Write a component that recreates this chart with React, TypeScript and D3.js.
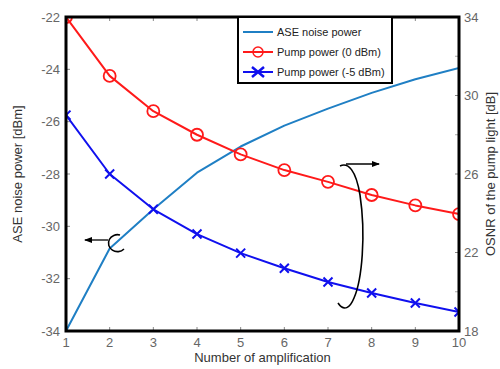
import React from "react";
import * as d3 from "d3";

const amplifications = [1, 2, 3, 4, 5, 6, 7, 8, 9, 10];
const aseNoise = [-34, -30.85, -29.35, -27.95, -26.95, -26.15, -25.5, -24.9, -24.38, -23.95];
const pump0dBm = [34, 31.0, 29.2, 28.0, 27.0, 26.2, 25.6, 24.93, 24.4, 23.96];
const pumpMinus5dBm = [29.0, 26.0, 24.2, 22.94, 21.97, 21.2, 20.5, 19.94, 19.43, 18.97];
const leftTicks = [-22, -24, -26, -28, -30, -32, -34];
const rightTicks = [18, 22, 26, 30, 34];
const rightMinorTicks = [20, 24, 28, 32];
const legendLabels = ["ASE noise power", "Pump power (0 dBm)", "Pump power (-5 dBm)"];

const W = 500, H = 369;
const L = 66, R = 459, T = 17, B = 331;
const FONT = "'Liberation Sans', Arial, sans-serif";
const TICK_COLOR = "#666";

export default function App() {
  const x = d3.scaleLinear().domain([1, 10]).range([L, R]);
  const yL = d3.scaleLinear().domain([-34, -22]).range([B, T]);
  const yR = d3.scaleLinear().domain([18, 34]).range([B, T]);

  const lineL = d3.line<number>().x((_, i) => x(amplifications[i])).y((d) => yL(d)).curve(d3.curveLinear);
  const lineR = d3.line<number>().x((_, i) => x(amplifications[i])).y((d) => yR(d)).curve(d3.curveLinear);

  const legendColors = ["#1f7fc4", "#ff1a1a", "#1010ee"];

  return (
    <svg width={W} height={H} style={{ position: "absolute", left: 0, top: 0, background: "#fff" }}>
      <defs>
        <clipPath id="plotclip">
          <rect x={L} y={T} width={R - L} height={B - T} />
        </clipPath>
        <marker id="arrowhead" markerWidth="8" markerHeight="6" refX="7" refY="3" orient="auto" markerUnits="userSpaceOnUse">
          <path d="M0,0 L8,3 L0,6 Z" fill="#000" />
        </marker>
      </defs>

      {/* x ticks bottom and top */}
      {amplifications.map((v) => (
        <g key={"xt" + v}>
          <line x1={x(v)} x2={x(v)} y1={B} y2={B - 4} stroke="#888" strokeWidth={1} />
          <line x1={x(v)} x2={x(v)} y1={T} y2={T + 4} stroke="#888" strokeWidth={1} />
          <text x={x(v)} y={B + 16} textAnchor="middle" fontSize={13} fill={TICK_COLOR} fontFamily={FONT}>
            {v}
          </text>
        </g>
      ))}

      {/* left ticks */}
      {leftTicks.map((v) => (
        <g key={"lt" + v}>
          <line x1={L} x2={L + 4} y1={yL(v)} y2={yL(v)} stroke="#888" strokeWidth={1} />
          <text x={L - 6} y={yL(v) + 4.5} textAnchor="end" fontSize={13} fill={TICK_COLOR} fontFamily={FONT}>
            {v}
          </text>
        </g>
      ))}

      {/* right ticks */}
      {rightTicks.map((v) => (
        <g key={"rt" + v}>
          <line x1={R} x2={R - 4} y1={yR(v)} y2={yR(v)} stroke="#888" strokeWidth={1} />
          <text x={R + 5} y={yR(v) + 4.5} textAnchor="start" fontSize={13} fill={TICK_COLOR} fontFamily={FONT}>
            {v}
          </text>
        </g>
      ))}
      {rightMinorTicks.map((v) => (
        <line key={"rm" + v} x1={R} x2={R - 4} y1={yR(v)} y2={yR(v)} stroke="#aaa" strokeWidth={1} />
      ))}

      {/* series */}
      <g clipPath="url(#plotclip)">
        <path d={lineL(aseNoise) || ""} fill="none" stroke={legendColors[0]} strokeWidth={2} strokeLinejoin="round" />
        <path d={lineR(pump0dBm) || ""} fill="none" stroke={legendColors[1]} strokeWidth={2} strokeLinejoin="round" />
        <path d={lineR(pumpMinus5dBm) || ""} fill="none" stroke={legendColors[2]} strokeWidth={2} strokeLinejoin="round" />
        {pump0dBm.map((v, i) => (
          <circle key={"c" + i} cx={x(amplifications[i])} cy={yR(v)} r={6} fill="none" stroke={legendColors[1]} strokeWidth={1.8} />
        ))}
        {pumpMinus5dBm.map((v, i) => {
          const cx = x(amplifications[i]);
          const cy = yR(v);
          const s = 4.5;
          return (
            <path
              key={"x" + i}
              d={`M${cx - s},${cy - s}L${cx + s},${cy + s}M${cx - s},${cy + s}L${cx + s},${cy - s}`}
              stroke={legendColors[2]}
              strokeWidth={2}
            />
          );
        })}
      </g>

      {/* frame */}
      <rect x={L} y={T} width={R - L} height={B - T} fill="none" stroke="#000" strokeWidth={3} />

      {/* legend */}
      <g>
        <rect x={238} y={T} width={154} height={66} fill="#fff" stroke="#000" strokeWidth={2} />
        {legendLabels.map((lab, i) => {
          const ly = 32 + i * 20;
          return (
            <g key={"lg" + i}>
              <line x1={243} x2={273} y1={ly} y2={ly} stroke={legendColors[i]} strokeWidth={2} />
              {i === 1 && <circle cx={258} cy={ly} r={5} fill="none" stroke={legendColors[1]} strokeWidth={1.5} />}
              {i === 2 && (
                <path d={`M252,${ly - 5}L264,${ly + 5}M252,${ly + 5}L264,${ly - 5}`} stroke={legendColors[2]} strokeWidth={2.5} />
              )}
              <text x={277} y={ly + 4} fontSize={11} fill="#222" fontFamily={FONT}>
                {lab}
              </text>
            </g>
          );
        })}
      </g>

      {/* annotations */}
      <path d="M120,235 A9,8.5 0 1 0 124,249" fill="none" stroke="#000" strokeWidth={1.6} />
      <line x1={108} y1={240} x2={85} y2={240} stroke="#000" strokeWidth={1.3} markerEnd="url(#arrowhead)" />
      <path
        d="M340,166 C348,162 356,170 360,195 C366,235 362,280 354,298 C350,308 344,312 338,303"
        fill="none"
        stroke="#000"
        strokeWidth={1.6}
      />
      <line x1={346} y1={164} x2={379} y2={164} stroke="#000" strokeWidth={1.3} markerEnd="url(#arrowhead)" />

      {/* axis labels */}
      <text x={(L + R) / 2} y={362} textAnchor="middle" fontSize={13} fill="#333" fontFamily={FONT}>
        Number of amplification
      </text>
      <text
        transform={`translate(22,${(T + B) / 2}) rotate(-90)`}
        textAnchor="middle"
        fontSize={13}
        fill="#333"
        fontFamily={FONT}
      >
        ASE noise power [dBm]
      </text>
      <text
        transform={`translate(495,${(T + B) / 2}) rotate(-90)`}
        textAnchor="middle"
        fontSize={13}
        fill="#333"
        fontFamily={FONT}
      >
        OSNR of the pump light [dB]
      </text>
    </svg>
  );
}
